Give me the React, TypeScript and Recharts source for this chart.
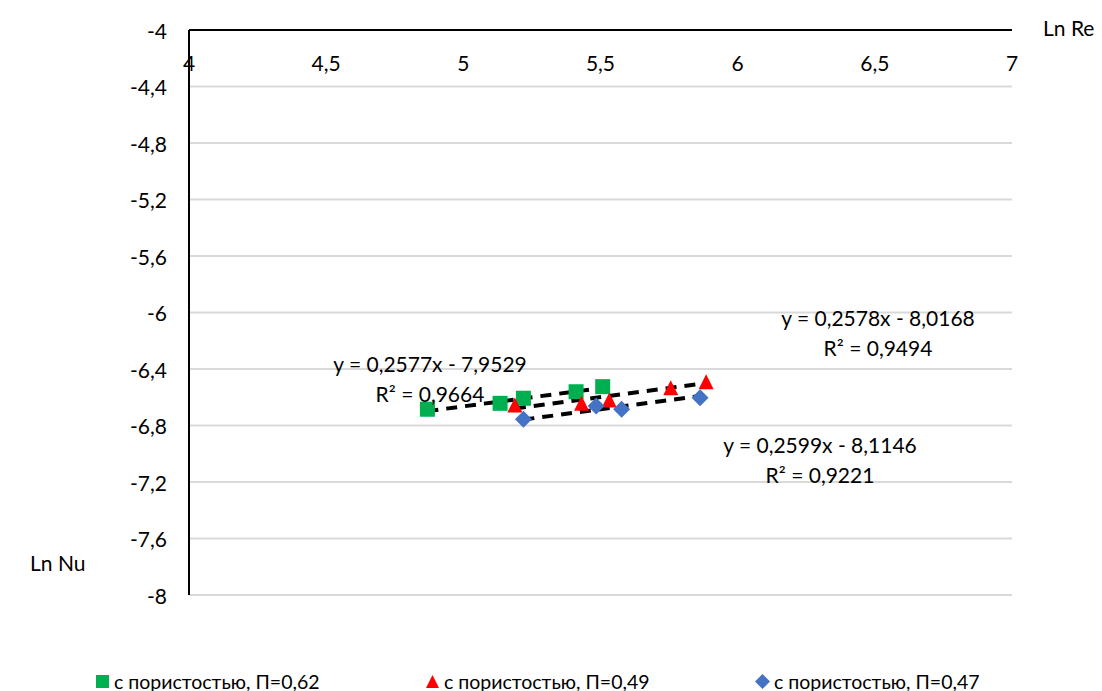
import React from "react";
import { ScatterChart, Scatter, XAxis, YAxis, CartesianGrid, ReferenceLine } from "recharts";

// Ln Re / Ln Nu points for each porosity
const lnRe62 = [4.869, 5.134, 5.219, 5.411, 5.508];
const lnNu62 = [-6.685, -6.643, -6.607, -6.561, -6.525];
const lnRe49 = [5.188, 5.431, 5.532, 5.756, 5.885];
const lnNu49 = [-6.655, -6.643, -6.619, -6.532, -6.49];
const lnRe47 = [5.219, 5.484, 5.577, 5.863];
const lnNu47 = [-6.756, -6.662, -6.685, -6.603];

const seriesNames = ["с пористостью, П=0,62", "с пористостью, П=0,49", "с пористостью, П=0,47"];
const slopes = [0.2577, 0.2578, 0.2599];
const intercepts = [-7.9529, -8.0168, -8.1146];
const rSquared = [0.9664, 0.9494, 0.9221];

const xTicks = [4, 4.5, 5, 5.5, 6, 6.5, 7];
const yTicks = [-8, -7.6, -7.2, -6.8, -6.4, -6, -5.6, -5.2, -4.8, -4.4, -4];

const FONT = "Lato, 'Open Sans', sans-serif";
const GREEN = "#00b050";
const RED = "#ff0000";
const BLUE = "#4472c4";

const toPoints = (xs: number[], ys: number[]) => xs.map((x, i) => ({ x, y: ys[i] }));
const comma = (v: number) => String(v).replace(".", ",");

const series = [
  { data: toPoints(lnRe62, lnNu62), color: GREEN, shape: "square" },
  { data: toPoints(lnRe49, lnNu49), color: RED, shape: "triangle" },
  { data: toPoints(lnRe47, lnNu47), color: BLUE, shape: "diamond" },
];

// equation boxes: centre x, first line centre y
const eqPos = [
  { cx: 430, cy: 364 },
  { cx: 878, cy: 318 },
  { cx: 820, cy: 445 },
];

function Marker({ cx, cy, kind, color, size = 15 }: any) {
  const h = size / 2;
  if (kind === "square") return <rect x={cx - h} y={cy - h} width={size} height={size} fill={color} />;
  if (kind === "triangle")
    return <polygon points={`${cx},${cy - h} ${cx + h},${cy + h} ${cx - h},${cy + h}`} fill={color} />;
  return <polygon points={`${cx},${cy - h - 1} ${cx + h + 1},${cy} ${cx},${cy + h + 1} ${cx - h - 1},${cy}`} fill={color} />;
}

function trendSegment(i: number, xs: number[]) {
  const x0 = Math.min(...xs);
  const x1 = Math.max(...xs);
  return [
    { x: x0, y: slopes[i] * x0 + intercepts[i] },
    { x: x1, y: slopes[i] * x1 + intercepts[i] },
  ];
}

export default function App() {
  const xsList = [lnRe62, lnRe49, lnRe47];
  return (
    <div style={{ position: "absolute", left: 0, top: 0, width: 1102, height: 691, background: "#fff", fontFamily: FONT, color: "#000" }}>
      <ScatterChart width={1102} height={691} margin={{ top: 0, right: 90, bottom: 96, left: 0 }}>
        <CartesianGrid vertical={false} stroke="#d9d9d9" strokeWidth={2} />
        <XAxis
          type="number"
          dataKey="x"
          orientation="top"
          domain={[4, 7]}
          ticks={xTicks}
          height={30}
          tickLine={false}
          axisLine={{ stroke: "#000", strokeWidth: 2 }}
          tick={(p: any) => (
            <text x={p.x} y={62} textAnchor="middle" dominantBaseline="central" fontSize={21} fontFamily={FONT} fill="#000">
              {comma(p.payload.value)}
            </text>
          )}
        />
        <YAxis
          type="number"
          dataKey="y"
          domain={[-8, -4]}
          ticks={yTicks}
          width={189}
          tickLine={false}
          axisLine={{ stroke: "#000", strokeWidth: 2 }}
          tick={(p: any) => (
            <text x={167} y={p.y} textAnchor="end" dominantBaseline="central" fontSize={21} fontFamily={FONT} fill="#000">
              {comma(p.payload.value)}
            </text>
          )}
        />
        {series.map((s, i) => (
          <Scatter
            key={i}
            name={seriesNames[i]}
            data={s.data}
            isAnimationActive={false}
            shape={(p: any) => <Marker cx={p.cx} cy={p.cy} kind={s.shape} color={s.color} />}
          />
        ))}
        {xsList.map((xs, i) => (
          <ReferenceLine
            key={"t" + i}
            segment={trendSegment(i, xs)}
            stroke="#000"
            strokeWidth={4}
            strokeDasharray="11 8"
          />
        ))}
      </ScatterChart>

      {eqPos.map((p, i) => (
        <div
          key={i}
          style={{ position: "absolute", left: p.cx - 150, top: p.cy - 15, width: 300, textAlign: "center", fontSize: 21, lineHeight: "30px" }}
        >
          <div>{`y = ${comma(slopes[i])}x - ${comma(Math.abs(intercepts[i]))}`}</div>
          <div>{`R² = ${comma(rSquared[i])}`}</div>
        </div>
      ))}

      <div style={{ position: "absolute", left: 1043, top: 13, fontSize: 21, lineHeight: "30px" }}>Ln Re</div>
      <div style={{ position: "absolute", left: 30, top: 548, fontSize: 21, lineHeight: "30px" }}>Ln Nu</div>

      {[95, 425, 755].map((left, i) => (
        <div key={i} style={{ position: "absolute", left, top: 668, height: 26, display: "flex", alignItems: "center", fontSize: 19.5 }}>
          <svg width={15} height={15} style={{ marginRight: 4 }}>
            <Marker cx={7.5} cy={7.5} kind={series[i].shape} color={series[i].color} size={13} />
          </svg>
          <span>{seriesNames[i]}</span>
        </div>
      ))}
    </div>
  );
}
